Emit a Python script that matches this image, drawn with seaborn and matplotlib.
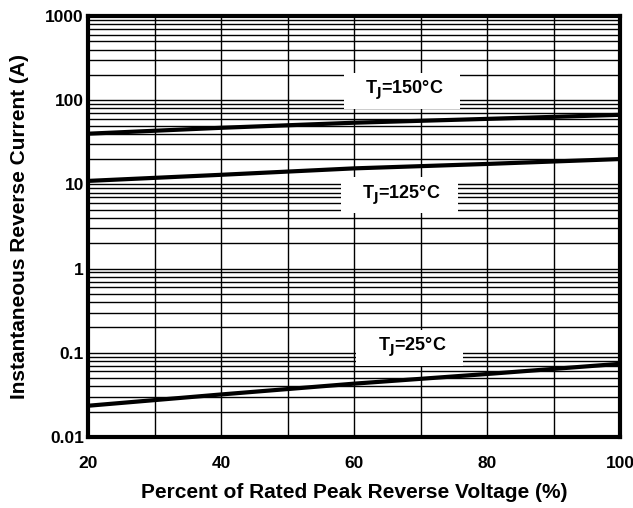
import pandas as pd
import matplotlib.pyplot as plt
import seaborn as sns
from matplotlib.ticker import LogLocator, FixedLocator, FixedFormatter

sns.set_theme(style="white")
plt.rcParams["font.family"] = ["Liberation Sans", "DejaVu Sans"]
plt.rcParams["font.weight"] = "bold"

voltage_pct = [20, 40, 60, 80, 100]
current_150 = [40, 47, 54, 60, 67]
current_125 = [11, 13, 15.5, 17.5, 20]
current_25 = [0.0235, 0.032, 0.043, 0.056, 0.074]

series = {"150": current_150, "125": current_125, "25": current_25}
label_pos = {"150": (67.2, 130), "125": (66.8, 7.5), "25": (68.4, 0.115)}

y_ticks = [0.01, 0.1, 1, 10, 100, 1000]
y_tick_labels = ["0.01", "0.1", "1", "10", "100", "1000"]
x_ticks = [20, 40, 60, 80, 100]

df = pd.DataFrame(
    [(v, c, t) for t, vals in series.items() for v, c in zip(voltage_pct, vals)],
    columns=["voltage", "current", "tj"],
)

fig = plt.figure(figsize=(6.33, 5.08), dpi=100)
ax = fig.add_axes([88 / 633, (508 - 437) / 508, (620 - 88) / 633, (437 - 16) / 508])

sns.lineplot(data=df, x="voltage", y="current", hue="tj",
             palette=["black"] * 3, linewidth=3, legend=False, ax=ax, zorder=3)

ax.set_yscale("log")
ax.set_xlim(20, 100)
ax.set_ylim(0.01, 1000)

ax.xaxis.set_major_locator(FixedLocator(x_ticks))
ax.xaxis.set_minor_locator(FixedLocator(range(20, 101, 10)))
ax.yaxis.set_major_locator(FixedLocator(y_ticks))
ax.yaxis.set_major_formatter(FixedFormatter(y_tick_labels))
ax.yaxis.set_minor_locator(LogLocator(base=10, subs=range(2, 10), numticks=20))

ax.grid(which="both", axis="both", color="black", linewidth=1.0)
ax.tick_params(which="both", length=0, labelsize=12.5)
ax.tick_params(axis="x", pad=14)
ax.tick_params(axis="y", pad=3)
for lab in ax.get_xticklabels() + ax.get_yticklabels():
    lab.set_fontweight("bold")
    lab.set_color("black")

for s in ax.spines.values():
    s.set_visible(True)
    s.set_color("black")
    s.set_linewidth(3)

for t, (x, y) in label_pos.items():
    ax.text(x, y, f"   T$_\\mathbf{{J}}$={t}°C   ", ha="center", va="center",
            fontsize=13, fontweight="bold", color="black", zorder=5,
            bbox=dict(boxstyle="square,pad=0.35", fc="white", ec="none"))

ax.set_xlabel("Percent of Rated Peak Reverse Voltage (%)", fontsize=15,
              fontweight="bold", color="black", labelpad=8)
ax.set_ylabel("Instantaneous Reverse Current (A)", fontsize=15,
              fontweight="bold", color="black", labelpad=12)

fig.savefig("out.png", dpi=100)
